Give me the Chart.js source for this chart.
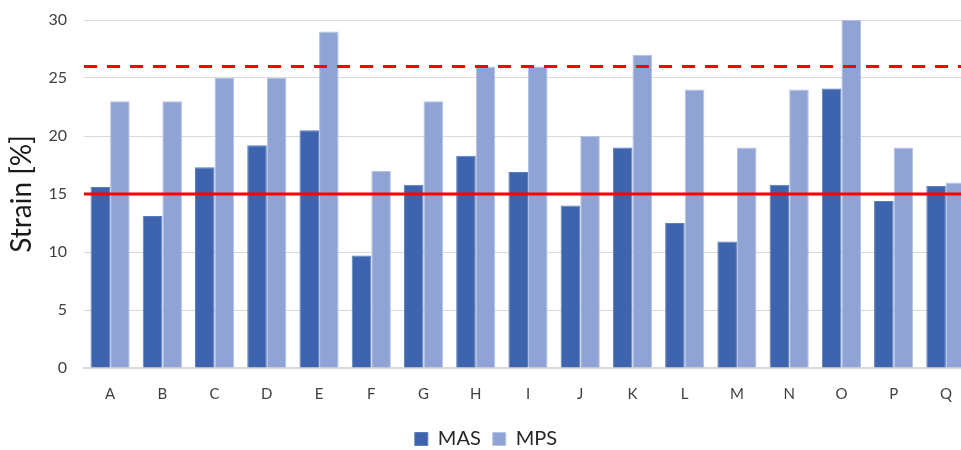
<!DOCTYPE html>
<html>
<head>
<meta charset="utf-8">
<script src="https://cdn.jsdelivr.net/npm/chart.js@4"></script>
<style>
  html, body { margin: 0; padding: 0; background: #fff; overflow: hidden; }
  #wrap { width: 986px; height: 450px; }
</style>
</head>
<body>
<div id="wrap"><canvas id="c" width="986" height="450"></canvas></div>
<script>
// Categories and series
const categories = ['A','B','C','D','E','F','G','H','I','J','K','L','M','N','O','P','Q'];
const masValues = [15.6, 13.1, 17.3, 19.2, 20.5, 9.7, 15.8, 18.3, 16.9, 14.0, 19.0, 12.5, 10.9, 15.8, 24.1, 14.4, 15.7];
const mpsValues = [23, 23, 25, 25, 29, 17, 23, 26, 26, 20, 27, 24, 19, 24, 30, 19, 16];
const yTicks = [0, 5, 10, 15, 20, 25, 30];

// Reference levels: solid lower limit, dashed upper limit
const limitLines = [
  { value: 15, dash: [] },
  { value: 26, dash: [13, 10] }
];

const FONT = 'Lato, "Open Sans", sans-serif';

const limitPlugin = {
  id: 'limitLines',
  afterDatasetsDraw(chart) {
    const { ctx, chartArea, scales } = chart;
    ctx.save();
    ctx.strokeStyle = '#FF0000';
    ctx.lineWidth = 3;
    limitLines.forEach(l => {
      const y = scales.y.getPixelForValue(l.value);
      ctx.setLineDash(l.dash);
      ctx.beginPath();
      ctx.moveTo(chartArea.left, y);
      ctx.lineTo(chartArea.right, y);
      ctx.stroke();
    });
    ctx.restore();
  }
};

new Chart(document.getElementById('c'), {
  type: 'bar',
  data: {
    labels: categories,
    datasets: [
      { label: 'MAS', data: masValues, backgroundColor: '#3D64AC', borderColor: '#5A7DBE', borderWidth: 1, barPercentage: 1, categoryPercentage: 0.75 },
      { label: 'MPS', data: mpsValues, backgroundColor: '#8FA4D4', borderColor: '#B3C2E4', borderWidth: 1, barPercentage: 1, categoryPercentage: 0.75 }
    ]
  },
  options: {
    responsive: false,
    animation: false,
    layout: { padding: { top: 20, right: 14, left: 0, bottom: -9 } },
    plugins: {
      legend: {
        position: 'bottom',
        labels: {
          font: { family: FONT, size: 20 },
          color: '#262626',
          boxWidth: 13,
          boxHeight: 13,
          padding: 12
        }
      },
      tooltip: { enabled: false }
    },
    scales: {
      x: {
        afterFit(scale) { scale.height = 49; },
        grid: { display: false, drawTicks: false },
        border: { color: '#D9D9D9', width: 2 },
        ticks: { font: { family: FONT, size: 15 }, color: '#404040', padding: 17 }
      },
      y: {
        min: 0,
        max: 30,
        afterBuildTicks(scale) { scale.ticks = yTicks.map(v => ({ value: v })); },
        afterFit(scale) {
          scale.width = 84;
          scale.paddingTop = 0;
          scale.paddingBottom = 0;
        },
        grid: { color: '#D9D9D9', lineWidth: 1, drawTicks: false },
        border: { display: false },
        ticks: { font: { family: FONT, size: 16 }, color: '#404040', padding: 17 },
        title: {
          display: true,
          text: 'Strain [%]',
          font: { family: FONT, size: 28 },
          color: '#1a1a1a',
          padding: { top: 5, bottom: 0 }
        }
      }
    }
  },
  plugins: [limitPlugin]
});
</script>
</body>
</html>
